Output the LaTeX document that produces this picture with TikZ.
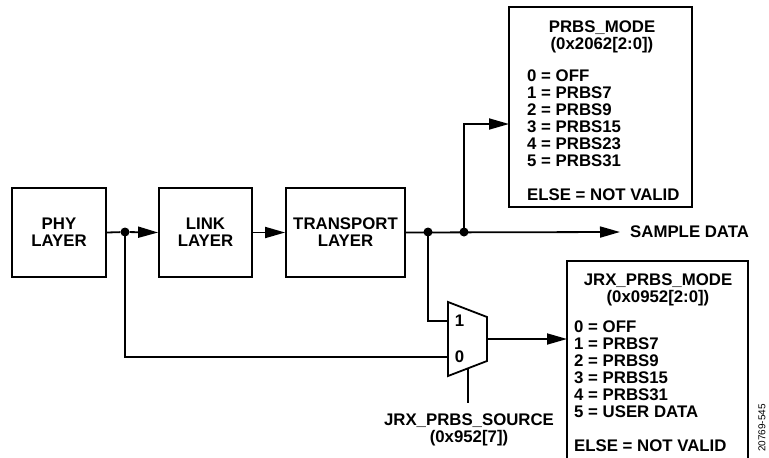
\documentclass[tikz,border=0pt]{standalone}
\usepackage{fontspec}
\setmainfont{Liberation Sans}
\usetikzlibrary{arrows.meta}

\tikzset{
  txt/.style={font=\fontsize{16.8}{17}\selectfont\bfseries, inner sep=0pt},
  blk/.style={draw, line width=1.8pt, txt, align=center},
  wire/.style={line width=1.8pt},
  arw/.style={wire, -{Triangle[length=20pt,width=11pt]}},
  dot/.style={circle, fill, inner sep=0pt, minimum size=9pt}
}

\begin{document}
\begin{tikzpicture}[x=1pt,y=-1pt]
			\useasboundingbox (0,0) rectangle (769,458);
			% blocks
			\node[blk, minimum width=94pt, minimum height=89pt] (phy) at (59,232.5) {PHY\\LAYER};
			\node[blk, minimum width=93pt, minimum height=89pt] (link) at (205.5,232.5) {LINK\\LAYER};
			\node[blk, minimum width=119pt, minimum height=89pt] (transport) at (345.5,232.5) {TRANSPORT\\LAYER};
			\node[blk, minimum width=183pt, minimum height=200pt] (prbs) at (600.5,107) {};
			\node[blk, minimum width=181pt, minimum height=203pt] (jrx) at (657.5,362.5) {};
			% register texts
			\node[txt, align=center] (prbshead) at (602,37) {PRBS\_MODE\\(0x2062[2:0])};
			\node[txt, align=left, anchor=north west] (prbslist) at (527,70)
				{0 = OFF\\1 = PRBS7\\2 = PRBS9\\3 = PRBS15\\4 = PRBS23\\5 = PRBS31\\[17pt]ELSE = NOT VALID};
			\node[txt, align=center] (jrxhead) at (658,290) {JRX\_PRBS\_MODE\\(0x0952[2:0])};
			\node[txt, align=left, anchor=north west] (jrxlist) at (574,321)
				{0 = OFF\\1 = PRBS7\\2 = PRBS9\\3 = PRBS15\\4 = PRBS31\\5 = USER DATA\\[17pt]ELSE = NOT VALID};
			% junctions
			\node[dot] (j1) at (125,232) {};
			\node[dot] (j2) at (428,232) {};
			\node[dot] (j3) at (464,232) {};
			% mux
			\coordinate (m1) at (448,302);
			\coordinate (m2) at (487,317);
			\coordinate (m3) at (487,361);
			\coordinate (m4) at (448,376);
			\draw[wire, line join=miter] (m1) -- (m2) -- (m3) -- (m4) -- cycle;
			\coordinate (in1) at (448,321);
			\coordinate (in0) at (448,357);
			\coordinate (mout) at (487,339);
			\coordinate (msel) at (468,368.3);
			\node[txt] (one) at (459.5,321) {1};
			\node[txt] (zero) at (459.5,357) {0};
			\coordinate (prbsin) at (509,124);
			\coordinate (jrxin) at (567,339);
			\coordinate (selend) at (468,403);
			\coordinate (outend) at (620,232);
			\node[txt, anchor=west] (sample) at (630,232) {SAMPLE DATA};
			\node[txt, align=center] (source) at (469,429.5) {JRX\_PRBS\_SOURCE\\(0x952[7])};
			\node[font=\fontsize{10}{10}\selectfont, rotate=90] (figid) at (762,428) {20769-545};
			% connections
			\draw[wire] (phy.east) -- (j1);
			\draw[arw] (j1) -- (link.west);
			\draw[arw] (link.east) -- (transport.west);
			\draw[arw] (transport.east) -- (outend);
			\draw[arw] (j3.center) |- (prbsin);
			\draw[wire] (j2.center) |- (in1);
			\draw[wire] (j1.center) |- (in0);
			\draw[arw] (mout) -- (jrxin);
			\draw[wire] (msel) -- (selend);
		\end{tikzpicture}
\end{document}
